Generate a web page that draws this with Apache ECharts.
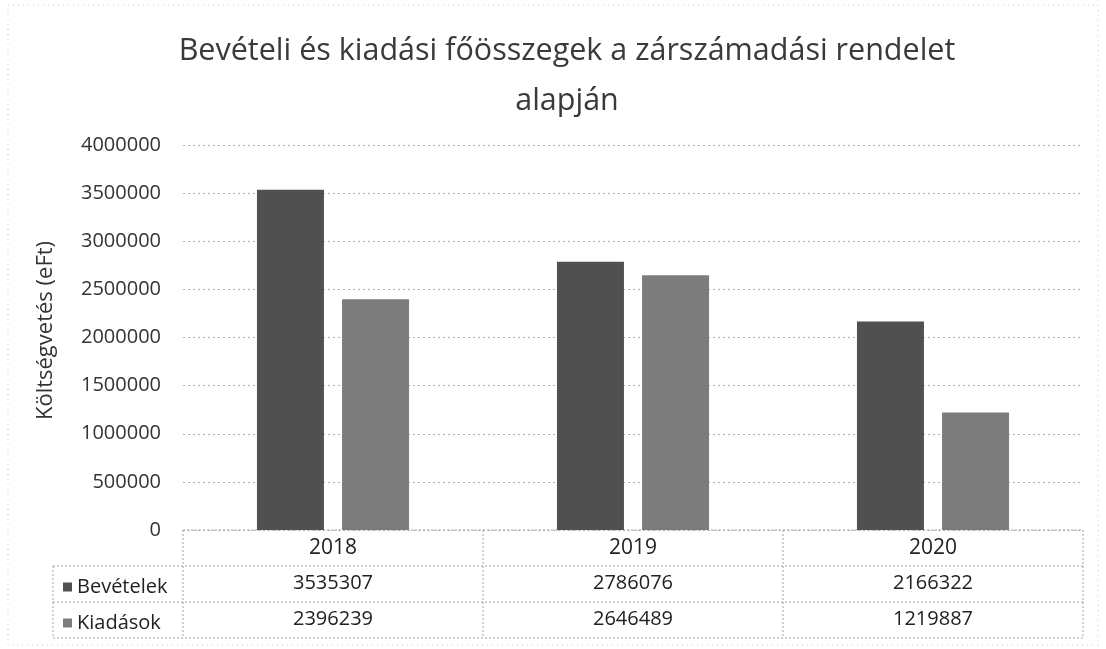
<!DOCTYPE html>
<html>
<head>
<meta charset="utf-8">
<script src="https://cdn.jsdelivr.net/npm/echarts@6/dist/echarts.min.js"></script>
<style>
  html, body { margin: 0; padding: 0; background: #fff; }
  #chart { width: 1106px; height: 649px; }
</style>
</head>
<body>
<div id="chart"></div>
<script>
// Éves bevételi és kiadási főösszegek (eFt)
const years = ['2018', '2019', '2020'];
const bevetelek = [3535307, 2786076, 2166322];
const kiadasok = [2396239, 2646489, 1219887];
const seriesNames = ['Bevételek', 'Kiadások'];
const yTicks = { min: 0, max: 4000000, interval: 500000 };

const FONT = '"Open Sans", Lato, sans-serif';
const GRID = { left: 183, right: 23, top: 145, bottom: 119 };
const ROW_H = 36;

const chart = echarts.init(document.getElementById('chart'));

const dotted = { stroke: '#a0a0a0', lineWidth: 1, lineDash: [2, 2] };

function tableGraphics() {
  const W = 1106, H = 649;
  const x0 = GRID.left, x1 = W - GRID.right;
  const yTop = H - GRID.bottom;
  const y1 = yTop + ROW_H, y2 = yTop + 2 * ROW_H, y3 = yTop + 3 * ROW_H;
  const legendLeft = 53;
  const colW = (x1 - x0) / years.length;
  const lines = [
    [[x0, yTop], [x1, yTop]],
    [[legendLeft, y1], [x1, y1]],
    [[legendLeft, y2], [x1, y2]],
    [[legendLeft, y3], [x1, y3]],
    [[legendLeft, y1], [legendLeft, y3]],
    [[x0, yTop], [x0, y3]],
    [[x1, yTop], [x1, y3]]
  ];
  for (let i = 1; i < years.length; i++) {
    lines.push([[x0 + colW * i, yTop], [x0 + colW * i, y3]]);
  }
  const els = lines.map(l => ({
    type: 'line', silent: true,
    shape: { x1: l[0][0], y1: l[0][1], x2: l[1][0], y2: l[1][1] },
    style: dotted
  }));
  // külső keret
  els.push({
    type: 'rect', silent: true,
    shape: { x: 8, y: 5, width: 1090, height: 640 },
    style: { fill: 'none', stroke: '#c8c8c8', lineWidth: 1, lineDash: [1, 4] }
  });
  return els;
}

const tableAxis = (values, offset) => ({
  type: 'category',
  data: values.map(String),
  position: 'bottom',
  offset: offset,
  axisLine: { show: false },
  axisTick: { show: false },
  axisLabel: { color: '#222', fontSize: 20, fontFamily: FONT, margin: 7 }
});

chart.setOption({
  animation: false,
  backgroundColor: '#ffffff',
  title: {
    text: 'Bevételi és kiadási főösszegek a zárszámadási rendelet\nalapján',
    left: 562,
    textAlign: 'center',
    top: 21,
    textStyle: {
      fontFamily: FONT, fontSize: 30.5, fontWeight: 'normal',
      color: '#3a3a3a', lineHeight: 50
    }
  },
  legend: {
    orient: 'vertical',
    left: 58,
    top: 572,
    itemWidth: 9,
    itemHeight: 9,
    itemGap: 16,
    icon: 'rect',
    textStyle: { fontFamily: FONT, fontSize: 20, color: '#222', lineHeight: 20 },
    data: seriesNames
  },
  grid: { left: GRID.left, right: GRID.right, top: GRID.top, bottom: GRID.bottom, containLabel: false },
  xAxis: [
    {
      type: 'category',
      data: years,
      position: 'bottom',
      axisLine: { show: false },
      axisTick: { show: false },
      axisLabel: { color: '#222', fontSize: 21, fontFamily: FONT, margin: 8 }
    },
    tableAxis(bevetelek, 36),
    tableAxis(kiadasok, 72)
  ],
  yAxis: {
    type: 'value',
    min: yTicks.min,
    max: yTicks.max,
    interval: yTicks.interval,
    name: 'Költségvetés (eFt)',
    nameLocation: 'middle',
    nameGap: 126,
    nameRotate: 90,
    nameTextStyle: { fontFamily: FONT, fontSize: 22, color: '#333', padding: [0, 0, 0, 14] },
    axisLine: { show: false },
    axisTick: { show: false },
    axisLabel: {
      color: '#333', fontSize: 20, fontFamily: FONT, margin: 22,
      formatter: v => String(v)
    },
    splitLine: { lineStyle: { color: '#b0b0b0', type: [2, 3], width: 1 } }
  },
  series: [
    {
      name: seriesNames[0],
      type: 'bar',
      data: bevetelek,
      barWidth: 67,
      barGap: '27%',
      itemStyle: { color: '#505050' }
    },
    {
      name: seriesNames[1],
      type: 'bar',
      data: kiadasok,
      barWidth: 67,
      itemStyle: { color: '#7c7c7c' }
    }
  ],
  graphic: tableGraphics()
});
</script>
</body>
</html>
